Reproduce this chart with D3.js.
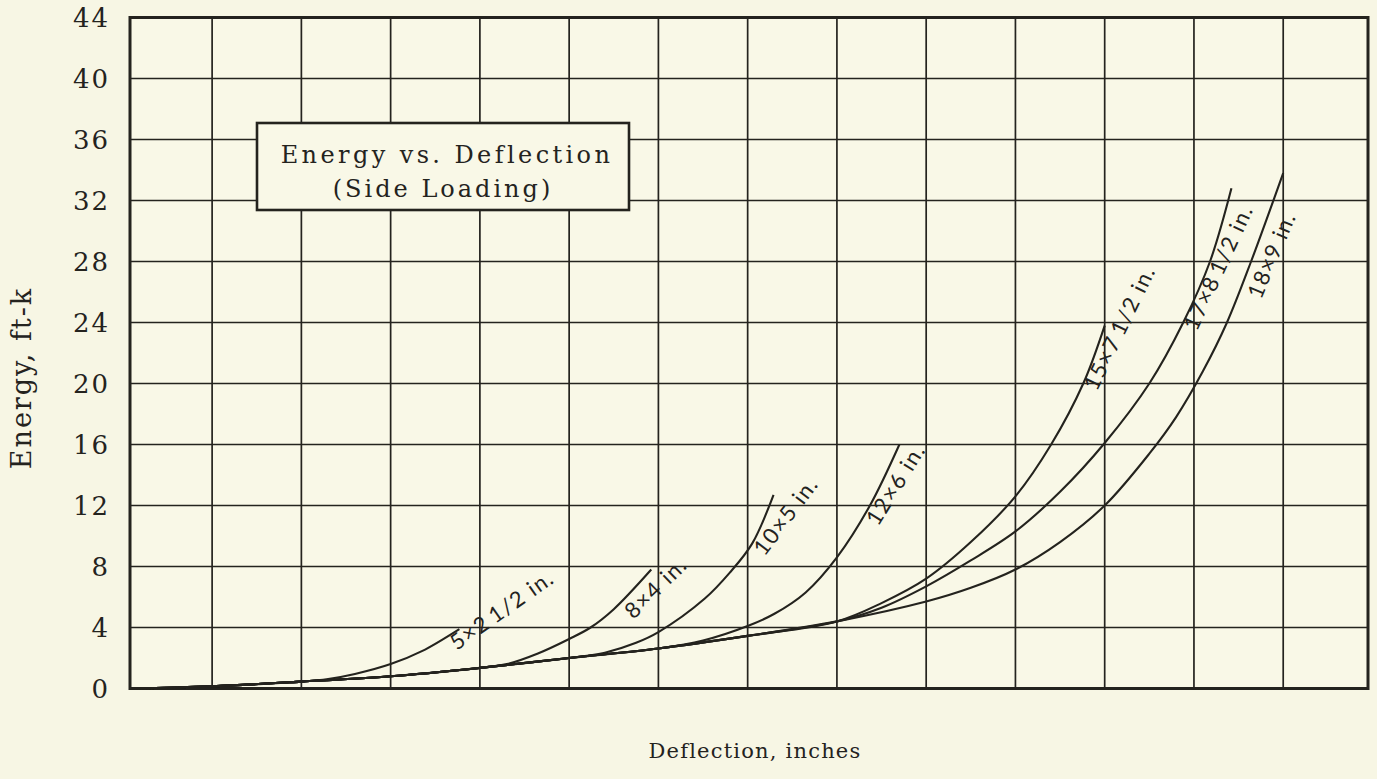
<!DOCTYPE html>
<html>
<head>
<meta charset="utf-8">
<script src="https://cdn.jsdelivr.net/npm/d3@7"></script>
<style>
  html, body { margin: 0; padding: 0; background: #f7f6e4; }
  svg { display: block; }
</style>
</head>
<body>
<svg></svg>
<script>
const WIDTH = 1377;
const HEIGHT = 779;

// y ticks (energy, ft-k) and vertical grid divisions (deflection, unlabelled)
const ENERGY_TICKS = [0, 4, 8, 12, 16, 20, 24, 28, 32, 36, 40, 44];
const DEFLECTION_GRID = [1, 2, 3, 4, 5, 6, 7, 8, 9, 10, 11, 12, 13];

// curves: [deflection (grid divisions), energy (ft-k)]
const beam5x2 = [[0.08, 0], [1, 0.15], [2, 0.45], [2.3, 0.62], [2.6, 0.95], [3, 1.6], [3.35, 2.45], [3.77, 3.9]];
const beam8x4 = [[0.08, 0], [1, 0.15], [2, 0.45], [3, 0.8], [4, 1.35], [4.3, 1.6], [4.65, 2.3], [5, 3.25], [5.24, 4.0], [5.5, 5.2], [5.92, 7.8]];
const beam10x5 = [[0.08, 0], [1, 0.15], [2, 0.45], [3, 0.8], [4, 1.35], [5, 2.0], [5.4, 2.35], [5.75, 3.0], [6, 3.7], [6.52, 5.9], [6.8, 7.6], [7.05, 9.5], [7.29, 12.7]];
const beam12x6 = [[0.08, 0], [1, 0.15], [2, 0.45], [3, 0.8], [4, 1.35], [5, 2.0], [6, 2.62], [6.5, 3.15], [7, 4.1], [7.3, 4.9], [7.65, 6.3], [8, 8.6], [8.37, 12], [8.7, 16]];
const beam15x7 = [[0.08, 0], [1, 0.15], [2, 0.45], [3, 0.8], [4, 1.35], [5, 2.0], [6, 2.62], [7, 3.45], [8, 4.4], [8.5, 5.6], [9, 7.2], [9.5, 9.6], [10, 12.6], [10.4, 16], [10.76, 20], [11, 23.8]];
const beam17x8 = [[0.08, 0], [1, 0.15], [2, 0.45], [3, 0.8], [4, 1.35], [5, 2.0], [6, 2.62], [7, 3.45], [8, 4.4], [8.5, 5.3], [9, 6.7], [9.5, 8.4], [10, 10.3], [10.5, 12.9], [11, 16.1], [11.5, 20], [11.88, 24], [12.18, 28], [12.42, 32.8]];
const beam18x9 = [[0.08, 0], [1, 0.15], [2, 0.45], [3, 0.8], [4, 1.35], [5, 2.0], [6, 2.62], [7, 3.45], [8, 4.4], [9, 5.7], [9.5, 6.6], [10, 7.8], [10.5, 9.6], [11, 12], [11.5, 15.4], [11.8, 17.8], [12.1, 20.8], [12.37, 24], [12.64, 28], [13, 33.8]];

const SERIES = [beam5x2, beam8x4, beam10x5, beam12x6, beam15x7, beam17x8, beam18x9];
const SERIES_NAMES = ["5×2\u20091/2 in.", "8×4 in.", "10×5 in.", "12×6 in.", "15×7\u20091/2 in.", "17×8\u20091/2 in.", "18×9 in."];
// where each name is written, in chart units, and its slant
const NAME_X = [3.74, 5.72, 7.19, 8.46, 10.91, 12.03, 12.75];
const NAME_E = [2.46, 4.49, 8.62, 10.59, 19.44, 23.38, 25.48];
const NAME_ANGLE = [-35, -44, -53, -58, -64, -65, -67];

const INK = "#24231e";
const PAPER = "#f9f8e7";
const SERIF = "'DejaVu Serif', serif";

let svg = d3.select("svg")
    .attr("width", WIDTH)
    .attr("height", HEIGHT);

const x = d3.scaleLinear().domain([0.08, 13.95]).range([130, 1368]);
const y = d3.scaleLinear().domain([0, 44]).range([688.5, 17.5]);

// plot background
svg.append("rect")
    .attr("x", x.range()[0])
    .attr("y", y.range()[1])
    .attr("width", x.range()[1] - x.range()[0])
    .attr("height", y.range()[0] - y.range()[1])
    .attr("fill", PAPER);

// grid
let grid = svg.append("g")
    .style("stroke", INK)
    .style("stroke-width", 1.7);

grid.selectAll("line.v")
    .data(DEFLECTION_GRID)
    .join("line")
    .attr("class", "v")
    .attr("x1", d => x(d))
    .attr("x2", d => x(d))
    .attr("y1", y.range()[0])
    .attr("y2", y.range()[1]);

grid.selectAll("line.h")
    .data(ENERGY_TICKS.slice(1, -1))
    .join("line")
    .attr("class", "h")
    .attr("x1", x.range()[0])
    .attr("x2", x.range()[1])
    .attr("y1", d => y(d))
    .attr("y2", d => y(d))
    .style("stroke-width", 1.5);

// frame
svg.append("rect")
    .attr("x", x.range()[0])
    .attr("y", y.range()[1])
    .attr("width", x.range()[1] - x.range()[0])
    .attr("height", y.range()[0] - y.range()[1])
    .attr("fill", "none")
    .attr("stroke", INK)
    .attr("stroke-width", 3);

// y axis labels
let yAxis = svg.append("g")
    .attr("transform", "translate(110,0)")
    .call(d3.axisLeft(y).tickValues(ENERGY_TICKS).tickSize(0).tickPadding(0));
yAxis.select(".domain").remove();
yAxis.selectAll("text")
    .attr("dy", "0.36em")
    .style("font-family", SERIF)
    .style("font-size", "26px")
    .style("letter-spacing", "2px")
    .style("fill", INK);

// curves
const line = d3.line()
    .x(d => x(d[0]))
    .y(d => y(d[1]))
    .curve(d3.curveCatmullRom.alpha(0.5));

svg.append("g")
    .selectAll("path")
    .data(SERIES)
    .join("path")
    .attr("d", line)
    .attr("fill", "none")
    .attr("stroke", INK)
    .attr("stroke-width", 2.1);

// curve names
svg.append("g")
    .selectAll("text")
    .data(SERIES_NAMES)
    .join("text")
    .attr("transform", (d, i) => `translate(${x(NAME_X[i])},${y(NAME_E[i])}) rotate(${NAME_ANGLE[i]})`)
    .style("font-family", "Lato, 'DejaVu Sans', sans-serif")
    .style("font-size", "22px")
    .style("letter-spacing", "1.5px")
    .style("fill", INK)
    .text(d => d);

// title box
let box = svg.append("g");
box.append("rect")
    .attr("x", 257)
    .attr("y", 123)
    .attr("width", 372)
    .attr("height", 87)
    .attr("fill", PAPER)
    .attr("stroke", INK)
    .attr("stroke-width", 2.6);

box.append("text")
    .attr("x", 447)
    .attr("y", 163)
    .attr("text-anchor", "middle")
    .style("font-family", SERIF)
    .style("font-size", "24px")
    .style("letter-spacing", "3.4px")
    .style("fill", INK)
    .text("Energy vs. Deflection");

box.append("text")
    .attr("x", 443)
    .attr("y", 197)
    .attr("text-anchor", "middle")
    .style("font-family", SERIF)
    .style("font-size", "24px")
    .style("letter-spacing", "3px")
    .style("fill", INK)
    .text("(Side Loading)");

// axis titles
svg.append("text")
    .attr("transform", "translate(31,378) rotate(-90)")
    .attr("text-anchor", "middle")
    .style("font-family", SERIF)
    .style("font-size", "27px")
    .style("letter-spacing", "2px")
    .style("fill", INK)
    .text("Energy, ft-k");

svg.append("text")
    .attr("x", 755)
    .attr("y", 758)
    .attr("text-anchor", "middle")
    .style("font-family", SERIF)
    .style("font-size", "21px")
    .style("letter-spacing", "1.2px")
    .style("fill", INK)
    .text("Deflection, inches");
</script>
</body>
</html>
